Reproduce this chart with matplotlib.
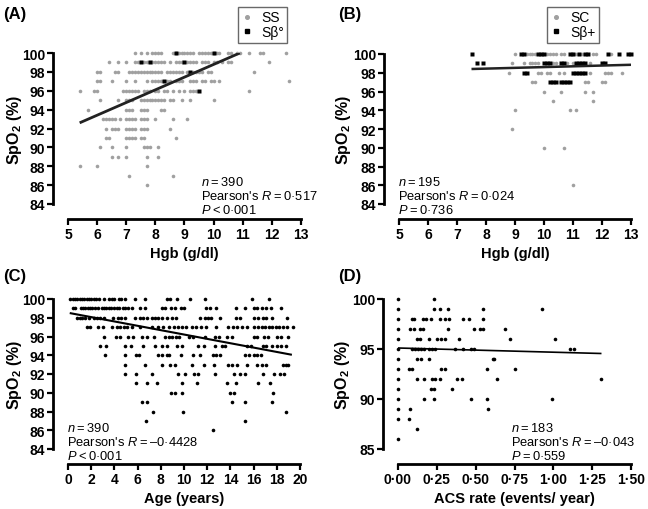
import matplotlib
matplotlib.use("Agg")
import matplotlib.pyplot as plt
from matplotlib.lines import Line2D

plt.rcParams['font.family'] = ['Liberation Sans', 'DejaVu Sans']
plt.rcParams['mathtext.fontset'] = 'custom'
plt.rcParams['mathtext.rm'] = 'Liberation Sans'
plt.rcParams['mathtext.it'] = 'Liberation Sans:italic'
plt.rcParams['mathtext.bf'] = 'Liberation Sans:bold'

# ---- data, SpO2 row -> x values ----
# panel A: Hgb vs SpO2, SS (grey) and S-beta0 (black)
ss_rows = {
    100: [7.3, 7.5, 7.7, 7.9, 8.0, 8.1, 8.2, 8.6, 8.7, 8.8, 8.9, 9.0, 9.1, 9.2, 9.3, 9.5, 9.6, 9.7,
          9.8, 9.9, 10.0, 10.1, 10.2, 10.5, 10.6, 10.8, 10.9, 11.2, 11.6, 11.7, 12.5],
    99: [6.4, 6.7, 7.0, 7.3, 7.4, 7.6, 7.7, 7.9, 8.0, 8.1, 8.2, 8.3, 8.5, 8.7, 8.8, 8.9, 9.1, 9.2,
         9.3, 9.4, 9.6, 9.7, 9.8, 10.0, 10.1, 10.3, 10.5, 10.6, 11.9],
    98: [6.0, 6.1, 6.6, 6.7, 7.1, 7.2, 7.3, 7.4, 7.5, 7.6, 7.7, 7.8, 7.9, 8.0, 8.1, 8.2, 8.4, 8.5,
         8.6, 8.7, 8.8, 8.9, 9.1, 9.3, 9.4, 9.5, 9.6, 9.8, 9.9, 11.4],
    97: [6.0, 6.1, 6.5, 7.0, 7.3, 7.7, 7.9, 8.0, 8.1, 8.2, 8.4, 8.5, 8.7, 8.8, 8.9, 9.2, 9.3, 9.4,
         9.6, 9.7, 9.9, 10.0, 10.2, 12.6],
    96: [5.4, 5.9, 6.0, 6.9, 7.0, 7.1, 7.2, 7.3, 7.4, 7.6, 7.7, 7.8, 8.0, 8.1, 8.3, 8.4, 8.6, 8.8,
         9.0, 9.2, 9.3, 9.4, 11.2],
    95: [6.1, 6.7, 7.0, 7.1, 7.2, 7.5, 7.6, 7.7, 7.8, 7.9, 8.0, 8.1, 8.2, 8.3, 8.5, 8.6, 8.9, 9.2, 10.0],
    94: [5.7, 7.0, 7.1, 7.2, 7.5, 7.6, 7.7, 8.2, 8.3],
    93: [6.2, 6.3, 6.4, 6.5, 6.6, 6.8, 7.0, 7.1, 7.2, 7.3, 7.5, 7.6, 7.7, 8.0, 8.6, 9.1],
    92: [6.3, 6.5, 6.6, 6.7, 7.0, 7.1, 7.2, 7.3, 7.5, 7.6, 7.7, 8.5],
    91: [6.3, 6.4, 7.0, 7.1, 7.2, 7.3, 7.5, 7.6, 8.7],
    90: [6.1, 6.5, 7.0, 7.6, 7.7, 7.8, 8.1],
    89: [6.5, 6.7, 7.0, 7.7, 8.1],
    88: [5.4, 6.0, 7.7],
    87: [7.1, 8.6],
    86: [7.7],
}
sb0_rows = {100: [8.7, 10.0], 99: [7.5, 7.8, 9.0], 98: [9.2], 97: [8.3], 96: [9.5]}
fit_a_x = [5.4, 10.9]
fit_a_y = [92.6, 100.0]

# panel B: Hgb vs SpO2, SC (grey) and S-beta+ (black)
sc_rows = {
    100: [9.0, 9.4, 9.5, 9.6, 9.7, 10.1, 10.2, 10.3, 10.4, 10.6, 10.7, 11.0, 11.1, 11.3, 11.7, 11.8, 12.3],
    99: [8.9, 9.3, 9.5, 9.6, 9.7, 9.8, 10.3, 10.4, 10.8, 11.0, 11.6],
    98: [8.8, 9.8, 9.9, 10.1, 10.2, 10.5, 10.7, 11.6, 12.1, 12.2, 12.3, 12.7],
    97: [9.6, 9.7, 10.6, 11.4, 11.5, 12.0, 12.1],
    96: [10.0, 10.6, 11.4, 11.7],
    95: [10.3, 11.7],
    94: [9.0, 10.9, 11.1],
    92: [8.9],
    90: [10.0, 10.7],
    86: [11.0],
}
sbp_rows = {
    100: [7.5, 9.2, 9.3, 9.8, 9.9, 10.0, 10.9, 11.0, 11.2, 11.4, 11.5, 12.2, 12.6, 12.9, 13.0],
    99: [7.7, 7.9, 10.0, 10.1, 10.2, 10.6, 10.7, 11.1, 11.2, 11.3, 11.4, 12.0, 12.1],
    98: [9.3, 9.4, 11.0, 11.1, 11.2, 11.3, 11.4],
    97: [10.2, 10.3, 10.4, 10.6, 10.7, 10.8, 10.9],
}
fit_b_x = [7.5, 13.0]
fit_b_y = [98.4, 98.85]

# panel C: age vs SpO2
age_rows = {
    100: [0.2, 0.4, 0.6, 0.8, 1.0, 1.2, 1.4, 1.6, 1.8, 2.0, 2.2, 2.4, 2.7, 3.1, 3.5, 3.8, 4.0, 4.4,
          4.6, 4.9, 5.8, 6.6, 8.5, 8.8, 9.4, 10.5, 11.8, 15.9, 17.3],
    99: [0.4, 0.6, 1.1, 1.3, 1.5, 1.7, 1.9, 2.1, 2.3, 2.6, 2.9, 3.1, 3.3, 3.5, 3.7, 4.0, 4.2, 4.4,
         4.7, 4.9, 5.2, 5.5, 6.2, 6.6, 8.1, 8.4, 8.9, 9.2, 9.7, 10.0, 11.9, 12.2, 12.8, 14.5, 15.3,
         16.0, 16.3, 16.7, 17.1, 17.5, 18.4],
    98: [0.8, 1.0, 1.2, 1.5, 1.8, 2.2, 2.5, 2.8, 3.1, 3.9, 4.3, 4.6, 4.9, 5.8, 6.2, 6.5, 6.8, 7.2,
         7.5, 7.8, 8.1, 8.5, 9.0, 9.3, 11.4, 11.8, 12.1, 12.3, 13.1, 14.5, 14.8, 16.0, 16.4, 16.8,
         17.1, 17.6, 18.9],
    97: [1.6, 1.9, 2.6, 3.0, 3.8, 4.2, 4.5, 4.8, 5.1, 5.5, 6.2, 7.2, 7.8, 8.2, 8.7, 9.1, 9.5, 9.8,
         10.2, 10.7, 11.0, 11.5, 11.9, 12.8, 13.8, 14.2, 14.6, 15.0, 15.4, 16.0, 16.4, 16.7, 17.0,
         17.3, 17.6, 17.9, 18.2, 18.5, 18.9, 19.4],
    96: [3.1, 4.1, 4.5, 5.2, 5.6, 6.4, 6.8, 7.4, 8.4, 8.7, 9.0, 9.3, 9.6, 10.4, 10.8, 11.8, 12.7,
         13.0, 13.7, 14.1, 16.0, 16.3, 16.9, 17.2, 18.0, 18.4, 19.0],
    95: [2.8, 3.3, 4.9, 5.4, 6.5, 7.5, 8.1, 8.5, 9.4, 9.8, 11.2, 11.7, 12.7, 13.3, 13.5, 15.4, 15.8,
         16.8, 17.1, 17.6, 18.0, 18.4, 18.8],
    94: [3.2, 4.9, 5.9, 6.1, 7.8, 8.1, 8.5, 8.7, 9.7, 10.8, 11.4, 12.5, 12.8, 13.1, 15.3, 15.6, 16.0,
         16.3, 16.6],
    93: [4.9, 6.6, 8.1, 8.8, 9.2, 10.7, 11.7, 12.6, 13.8, 14.1, 14.6, 15.4, 16.3, 16.7, 17.1, 18.5,
         18.8, 19.0],
    92: [4.9, 5.9, 7.2, 9.5, 10.1, 10.9, 11.2, 12.7, 14.3, 14.8, 15.3, 16.8, 17.8, 18.3, 18.6],
    91: [5.9, 6.8, 7.7, 9.8, 11.1, 13.7, 14.5, 16.4, 17.4],
    90: [8.9, 9.2, 9.8, 14.0, 14.3, 17.7],
    89: [6.4, 6.8, 14.1, 15.3, 17.6],
    88: [7.3, 9.9, 18.8],
    87: [6.7, 15.3],
    86: [12.5],
}
fit_c_x = [0.15, 19.3]
fit_c_y = [98.5, 94.05]

# panel D: ACS rate vs SpO2
acs_rows = {
    100: [0.0, 0.23],
    99: [0.0, 0.23, 0.27, 0.32, 0.55, 0.93],
    98: [0.0, 0.09, 0.10, 0.16, 0.18, 0.21, 0.27, 0.30, 0.33, 0.42, 0.46, 0.55],
    97: [0.0, 0.08, 0.10, 0.14, 0.16, 0.32, 0.49, 0.53, 0.55, 0.69],
    96: [0.0, 0.12, 0.14, 0.20, 0.25, 0.28, 0.30, 0.39, 0.72, 1.01],
    95: [0.0, 0.09, 0.11, 0.13, 0.15, 0.17, 0.20, 0.22, 0.24, 0.37, 0.42, 0.47, 0.49, 1.11, 1.13],
    94: [0.0, 0.12, 0.15, 0.20, 0.61, 0.62],
    93: [0.0, 0.07, 0.09, 0.28, 0.30, 0.57, 0.75],
    92: [0.0, 0.12, 0.17, 0.22, 0.24, 0.27, 0.38, 0.41, 0.64, 1.31],
    91: [0.0, 0.21, 0.23, 0.35],
    90: [0.0, 0.17, 0.23, 0.47, 0.57, 0.99],
    89: [0.0, 0.08, 0.58],
    88: [0.0, 0.07],
    87: [0.12],
    86: [0.0],
}
fit_d_x = [0.0, 1.31]
fit_d_y = [95.1, 94.55]

TS = '\u2009'  # thin space
stats_a = [rf'$\it{{n}}${TS}={TS}390', rf"Pearson's $\it{{R}}${TS}={TS}0·517", rf'$\it{{P}}${TS}<{TS}0·001']
stats_b = [rf'$\it{{n}}${TS}={TS}195', rf"Pearson's $\it{{R}}${TS}={TS}0·024", rf'$\it{{P}}${TS}={TS}0·736']
stats_c = [rf'$\it{{n}}${TS}={TS}390', rf"Pearson's $\it{{R}}${TS}={TS}–0·4428", rf'$\it{{P}}${TS}<{TS}0·001']
stats_d = [rf'$\it{{n}}${TS}={TS}183', rf"Pearson's $\it{{R}}${TS}={TS}–0·043", rf'$\it{{P}}${TS}={TS}0·559']


def flatten(rows):
    xs, ys = [], []
    for y, xl in rows.items():
        xs += xl
        ys += [y] * len(xl)
    return xs, ys


W, H = 648, 510
GREY = '#a0a0a0'


def make_axes(x0, x1, ytop, ybot):
    return fig.add_axes([x0 / W, 1 - ybot / H, (x1 - x0) / W, (ybot - ytop) / H])


def style(ax, xlim, ylim, xticks, yticks, ylab_x, xlabels=None):
    ax.set_xlim(*xlim)
    ax.set_ylim(*ylim)
    ax.patch.set_alpha(0)
    for s in ['top', 'right']:
        ax.spines[s].set_visible(False)
    for s in ['left', 'bottom']:
        ax.spines[s].set_linewidth(2.0)
        ax.spines[s].set_position(('outward', 11))
    ax.set_xticks(xticks)
    ax.set_yticks(yticks)
    if xlabels is not None:
        ax.set_xticklabels(xlabels)
    ax.tick_params(width=1.6, length=4, labelsize=10, pad=1.5)
    for lab in ax.get_xticklabels() + ax.get_yticklabels():
        lab.set_fontweight('bold')
    ax.set_ylabel(r'SpO$_\mathbf{2}$ (%)', fontsize=11.5, fontweight='bold')
    ax.yaxis.set_label_coords(ylab_x, 0.5)


fig = plt.figure(figsize=(6.48, 5.1), dpi=100)

h1 = Line2D([], [], marker='o', ms=2.6, color=GREY, ls='none')
h2 = Line2D([], [], marker='s', ms=2.6, color='black', ls='none')
leg_kw = dict(loc='upper left', bbox_transform=fig.transFigure, frameon=True, fancybox=False,
              edgecolor='#444444', fontsize=10, handlelength=0.8, handletextpad=0.6,
              borderpad=0.25, labelspacing=0.05, borderaxespad=0)

# ---- panel A ----
axA = make_axes(68, 301, 54, 205)
x, y = flatten(ss_rows)
axA.plot(x, y, 'o', ms=2.6, color=GREY, mec='none', clip_on=False)
x, y = flatten(sb0_rows)
axA.plot(x, y, 's', ms=2.6, color='black', mec='none', clip_on=False)
axA.plot(fit_a_x, fit_a_y, color='#222222', lw=2.0, solid_capstyle='butt')
style(axA, (5, 13), (84, 100), range(5, 14), range(84, 101, 2), -0.19)
axA.set_xlabel('Hgb (g/dl)', fontsize=10.5, fontweight='bold', labelpad=4)
axA.legend([h1, h2], ['SS', 'Sβ°'], bbox_to_anchor=(238 / W, 1 - 8 / H), **leg_kw)

# ---- panel B ----
axB = make_axes(399, 631, 55, 205)
x, y = flatten(sc_rows)
axB.plot(x, y, 'o', ms=2.6, color=GREY, mec='none', clip_on=False)
x, y = flatten(sbp_rows)
axB.plot(x, y, 's', ms=2.6, color='black', mec='none', clip_on=False)
axB.plot(fit_b_x, fit_b_y, color='#222222', lw=1.8, solid_capstyle='butt')
style(axB, (5, 13), (84, 100), range(5, 14), range(84, 101, 2), -0.2)
axB.set_xlabel('Hgb (g/dl)', fontsize=10.5, fontweight='bold', labelpad=4)
axB.legend([h1, h2], ['SC', 'Sβ+'], bbox_to_anchor=(547 / W, 1 - 8 / H), **leg_kw)

# ---- panel C ----
axC = make_axes(68, 300, 300, 450)
x, y = flatten(age_rows)
axC.plot(x, y, 'o', ms=2.6, color='black', mec='none', clip_on=False)
axC.plot(fit_c_x, fit_c_y, color='black', lw=1.5, solid_capstyle='butt')
style(axC, (0, 20), (84, 100), range(0, 21, 2), range(84, 101, 2), -0.19)
axC.set_xlabel('Age (years)', fontsize=10.5, fontweight='bold', labelpad=4)

# ---- panel D ----
axD = make_axes(398, 631, 300, 450)
x, y = flatten(acs_rows)
axD.plot(x, y, 'o', ms=2.6, color='black', mec='none', clip_on=False)
axD.plot(fit_d_x, fit_d_y, color='black', lw=1.2, solid_capstyle='butt')
dticks = [0, 0.25, 0.5, 0.75, 1.0, 1.25, 1.5]
style(axD, (0, 1.5), (85, 100), dticks, [85, 90, 95, 100], -0.197,
      ['{:.2f}'.format(v).replace('.', '·') for v in dticks])
axD.set_xlabel('ACS rate (events/ year)', fontsize=10.5, fontweight='bold', labelpad=4)

# ---- annotations (figure pixel positions) ----
for lines, px, py in [(stats_a, 201, 183), (stats_b, 398, 183),
                      (stats_c, 67, 429), (stats_d, 511, 429)]:
    for i, t in enumerate(lines):
        fig.text(px / W, 1 - (py + i * 14) / H, t, fontsize=9.3, va='center', ha='left')

for lab, px, py in [('(A)', 3, 14), ('(B)', 338, 14), ('(C)', 3, 277), ('(D)', 338, 277)]:
    fig.text(px / W, 1 - py / H, lab, fontsize=12, fontweight='bold', va='center', ha='left')

fig.savefig('out.png', dpi=100)
